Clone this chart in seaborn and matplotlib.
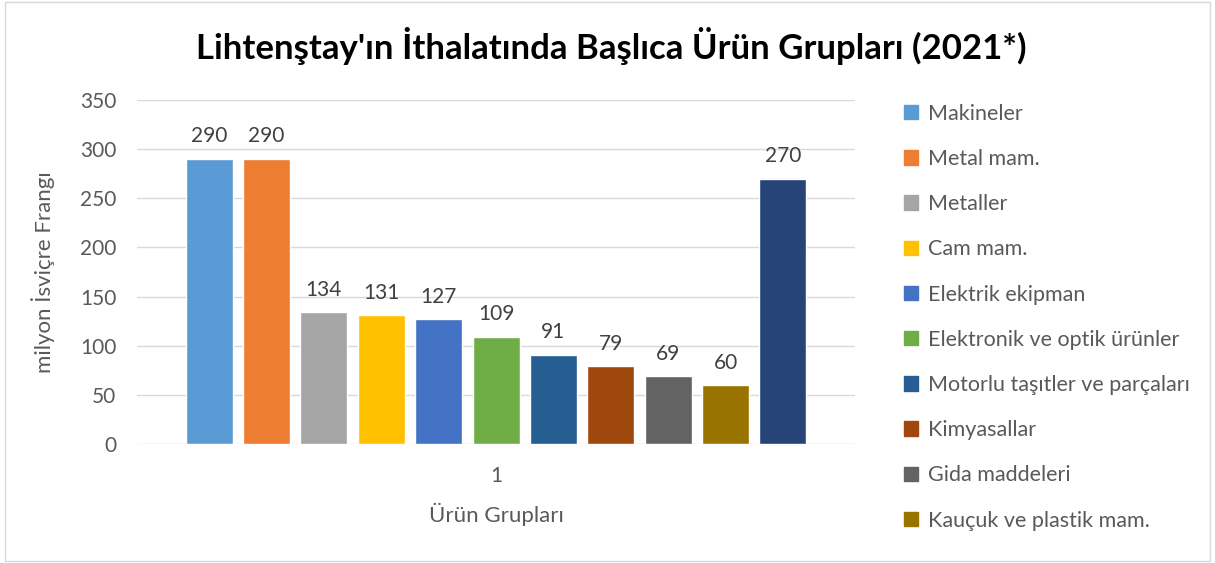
import pandas as pd
import seaborn as sns
import matplotlib.pyplot as plt
from matplotlib.patches import Rectangle

# urun gruplari ve ithalat degerleri (milyon CHF)
urunler = ['Makineler', 'Metal mam.', 'Metaller', 'Cam mam.', 'Elektrik ekipman',
           'Elektronik ve optik ürünler', 'Motorlu taşıtler ve parçaları',
           'Kimyasallar', 'Gida maddeleri', 'Kauçuk ve plastik mam.', 'Diğer']
degerler = [290, 290, 134, 131, 127, 109, 91, 79, 69, 60, 270]
kategori = ['1'] * len(urunler)
renkler = ['#5B9BD5', '#ED7D31', '#A5A5A5', '#FFC000', '#4472C4', '#70AD47',
           '#255E91', '#9E480E', '#636363', '#997300', '#264478']

df = pd.DataFrame({'grup': kategori, 'urun': urunler, 'deger': degerler})

sns.set_theme(style='white')
plt.rcParams['font.family'] = ['Lato', 'DejaVu Sans']

fig = plt.figure(figsize=(12.15, 5.63), dpi=100)
ax = fig.add_axes([0.1128, 0.2114, 0.5909, 0.611])

sns.barplot(data=df, x='grup', y='deger', hue='urun', hue_order=urunler,
            palette=renkler, width=0.879, gap=0.18, saturation=1,
            legend=False, ax=ax)

for c in ax.containers:
    ax.bar_label(c, padding=9, fontsize=15, color='#404040')

ax.set_ylim(0, 350)
ax.set_yticks(range(0, 351, 50))
ax.yaxis.grid(True, color='#D9D9D9', linewidth=1)
ax.set_axisbelow(True)
for s in ax.spines.values():
    s.set_visible(False)
ax.tick_params(axis='y', length=0, labelsize=15, labelcolor='#595959', pad=15)
ax.tick_params(axis='x', length=0, labelsize=15, labelcolor='#595959', pad=16)
ax.set_ylabel('milyon İsviçre Frangı', fontsize=16, color='#595959', labelpad=18)
ax.set_xlabel('Ürün Grupları', fontsize=16, color='#595959', labelpad=12)

fig.suptitle("Lihtenştay'ın İthalatında Başlıca Ürün Grupları (2021*)",
             fontsize=25, fontweight='bold', color='black', x=0.503, y=0.952)

handles = [Rectangle((0, 0), 1, 1, color=renkler[i]) for i in range(10)]
leg = fig.legend(handles, urunler[:10], loc='upper left',
                 bbox_to_anchor=(0.728, 0.85), frameon=False, fontsize=15.5,
                 labelspacing=1.17, handlelength=0.65, handleheight=0.65,
                 handletextpad=0.45)
for t in leg.get_texts():
    t.set_color('#595959')

fig.patches.append(Rectangle((0.004, 0.004), 0.992, 0.992, transform=fig.transFigure,
                             fill=False, edgecolor='#D9D9D9', linewidth=1))

plt.savefig('out.png', dpi=100)
